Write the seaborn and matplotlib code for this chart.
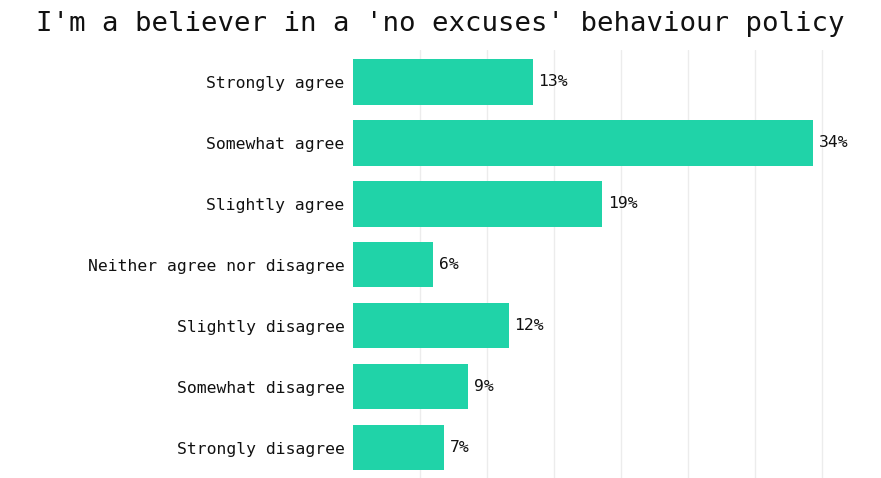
import matplotlib
matplotlib.use('Agg')
import matplotlib.pyplot as plt
import seaborn as sns
import pandas as pd

#chart data
categories = ['Strongly agree', 'Somewhat agree', 'Slightly agree',
              'Neither agree nor disagree', 'Slightly disagree',
              'Somewhat disagree', 'Strongly disagree']
values = [13.4, 34.3, 18.6, 6.0, 11.6, 8.6, 6.8]
labels = ['13%', '34%', '19%', '6%', '12%', '9%', '7%']
title = "I'm a believer in a 'no excuses' behaviour policy"

df = pd.DataFrame({'Answer': categories, 'Share': values})

sns.set_style('white')
plt.rcParams['font.family'] = ['DejaVu Sans Mono', 'DejaVu Sans']

fig = plt.figure(figsize=(8.81, 4.78), dpi=100)
ax = fig.add_axes([353 / 881, 0.0, (860 - 353) / 881, 1 - 50 / 478])

sns.barplot(data=df, x='Share', y='Answer', color='#20d3a8', saturation=1,
            width=0.75, linewidth=0, ax=ax, zorder=2)

#bar labels
ax.bar_label(ax.containers[0], labels=labels, padding=4, fontsize=11.8,
             color='#111111', clip_on=False)

ax.set_xlim(0, 37.8)
ax.set_ylim(6.5, -0.52)
ax.set_xticks([5, 10, 15, 20, 25, 30, 35])
ax.xaxis.grid(True, color='#ececec', linewidth=1, zorder=0)
ax.set_xticklabels([])
ax.tick_params(axis='x', length=0)
ax.tick_params(axis='y', length=0, pad=6, labelsize=11.8, labelcolor='#111111')
ax.set_xlabel('')
ax.set_ylabel('')
sns.despine(ax=ax, left=True, bottom=True)

fig.text(0.5, 1 - 24 / 478, title, ha='center', va='center', fontsize=19.7,
         color='#111111')

fig.savefig('out.png', dpi=100)
